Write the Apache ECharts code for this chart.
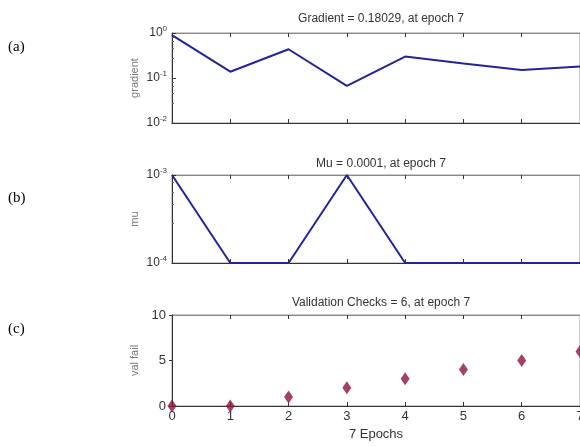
<!DOCTYPE html>
<html><head><meta charset="utf-8">
<script src="https://cdn.jsdelivr.net/npm/echarts@6/dist/echarts.min.js"></script>
<style>html,body{margin:0;padding:0;background:#fff}#c{width:580px;height:446px}</style>
</head><body><div id="c"></div>
<script>
const epochs = [0, 1, 2, 3, 4, 5, 6, 7];
const gradient = [0.9, 0.138, 0.435, 0.067, 0.30, 0.21, 0.15, 0.18029];
const mu = [0.001, 0.0001, 0.0001, 0.001, 0.0001, 0.0001, 0.0001, 0.0001];
const valFail = [0, 0, 1, 2, 3, 4, 5, 6];
const titles = ['Gradient = 0.18029, at epoch 7', 'Mu = 0.0001, at epoch 7', 'Validation Checks = 6, at epoch 7'];
const yNames = ['gradient', 'mu', 'val fail'];
const panelLabels = ['(a)', '(b)', '(c)'];
const xName = '7 Epochs';

const FONT = "'Liberation Sans Narrow','Liberation Sans',Arial,sans-serif";
const chart = echarts.init(document.getElementById('c'), null, {renderer: 'canvas'});
const grids = [
  {left: 172, right: 0, top: 33, height: 90},
  {left: 172, right: 0, top: 175, height: 88},
  {left: 172, right: 0, top: 315, height: 91}
];
const sup = v => {
  const e = Math.round(Math.log10(v));
  return '{b|10}{s|' + e + '}';
};
const rich = {b: {fontSize: 12, fontFamily: FONT, color: '#333'}, s: {fontSize: 8, fontFamily: FONT, color: '#333', verticalAlign: 'top', padding: [0, 0, 8, 0]}};
const yName = (t) => ({
  name: t, nameLocation: 'middle', nameGap: 32, nameMoveOverlap: false,
  nameTextStyle: {fontSize: 11, fontFamily: FONT, color: '#777'}
});
const xAxes = [], yAxes = [];
grids.forEach((g, i) => {
  xAxes.push({
    type: 'value', gridIndex: i, min: 0, max: 7, interval: 1, position: 'bottom',
    axisLine: {show: true, onZero: false, lineStyle: {color: '#333'}},
    axisTick: {inside: true, length: 4, lineStyle: {color: '#333'}},
    axisLabel: {show: i === 2, fontSize: 13, fontFamily: FONT, color: '#333', margin: 4},
    splitLine: {show: false},
    name: i === 2 ? xName : '', nameLocation: 'middle', nameGap: 22,
    nameTextStyle: {fontSize: 13, fontFamily: FONT, color: '#333'}
  });
  xAxes.push({
    type: 'value', gridIndex: i, min: 0, max: 7, interval: 1, position: 'top',
    axisLine: {show: true, onZero: false, lineStyle: {color: '#888'}},
    axisTick: {inside: true, length: 4, lineStyle: {color: '#333'}},
    axisLabel: {show: false}, splitLine: {show: false}
  });
});
yAxes.push(Object.assign({
  type: 'log', logBase: 10, gridIndex: 0, min: 0.01, max: 1,
  axisLine: {show: true, lineStyle: {color: '#333'}},
  axisTick: {inside: true, length: 4, lineStyle: {color: '#333'}},
  minorTick: {show: true, splitNumber: 5, length: 2, lineStyle: {color: '#666'}},
  axisLabel: {formatter: sup, rich: rich, margin: 5},
  splitLine: {show: false}
}, yName(yNames[0])));
yAxes.push(Object.assign({
  type: 'log', logBase: 10, gridIndex: 1, min: 0.0001, max: 0.001,
  axisLine: {show: true, lineStyle: {color: '#333'}},
  axisTick: {inside: true, length: 4, lineStyle: {color: '#333'}},
  minorTick: {show: true, splitNumber: 5, length: 2, lineStyle: {color: '#666'}},
  axisLabel: {formatter: sup, rich: rich, margin: 5},
  splitLine: {show: false}
}, yName(yNames[1])));
yAxes.push(Object.assign({
  type: 'value', gridIndex: 2, min: 0, max: 10, interval: 5,
  axisLine: {show: true, lineStyle: {color: '#333'}},
  axisTick: {inside: false, length: 3, lineStyle: {color: '#333'}},
  axisLabel: {fontSize: 13, fontFamily: FONT, color: '#333', margin: 6},
  splitLine: {show: false}
}, yName(yNames[2])));
const pairs = (ys) => epochs.map((e, k) => [e, ys[k]]);
chart.setOption({
  animation: false,
  backgroundColor: '#fff',
  title: titles.map((t, i) => ({
    text: t, left: 376, textAlign: 'center', top: [8, 153, 292][i],
    textStyle: {fontSize: 12, fontWeight: 'normal', fontFamily: FONT, color: '#333'}
  })),
  grid: grids.map(g => Object.assign({show: true, borderColor: '#999', borderWidth: 1, containLabel: false, outerBoundsMode: 'none'}, g)),
  xAxis: xAxes,
  yAxis: yAxes,
  graphic: panelLabels.map((t, i) => ({
    type: 'text', left: 8, top: [40, 191, 322][i],
    style: {text: t, fontSize: 15, fontFamily: "'Liberation Serif','Times New Roman',serif", fill: '#000'}
  })),
  series: [
    {type: 'line', xAxisIndex: 0, yAxisIndex: 0, data: pairs(gradient), symbol: 'none',
     lineStyle: {color: '#23239a', width: 2}},
    {type: 'line', xAxisIndex: 2, yAxisIndex: 1, data: pairs(mu), symbol: 'none',
     lineStyle: {color: '#23239a', width: 2}},
    {type: 'scatter', xAxisIndex: 4, yAxisIndex: 2, data: pairs(valFail), symbol: 'diamond',
     symbolSize: [9, 13], itemStyle: {color: '#8c1240'}, clip: false}
  ]
});
</script></body></html>
